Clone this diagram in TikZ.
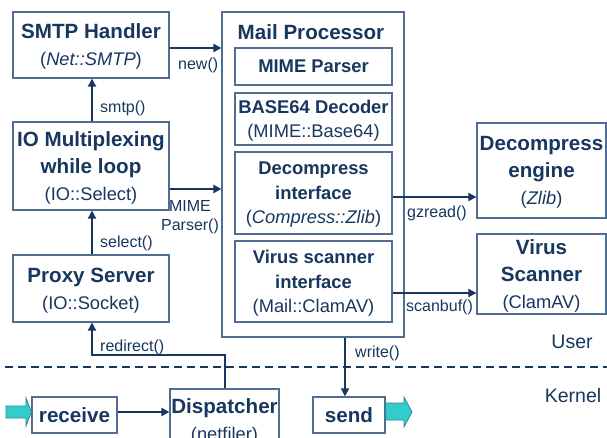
\documentclass[tikz,border=0pt]{standalone}
\usepackage{fontspec}
\setmainfont{Liberation Sans}
\usetikzlibrary{arrows.meta}

\definecolor{navy}{HTML}{17375E}
\definecolor{boxedge}{HTML}{4F6D92}
\definecolor{pipecyan}{HTML}{33CCCC}
\definecolor{pipeedge}{HTML}{2A8A96}

% bold heading lines: large for stand-alone boxes, smaller inside the processor
\newcommand{\boxhead}[1]{{\fontsize{20.6}{27}\selectfont\bfseries #1}}
\newcommand{\parthead}[1]{{\fontsize{18.4}{24.5}\selectfont\bfseries #1}}

\tikzset{
  box/.style={draw=boxedge, line width=1.2pt, rectangle, inner sep=1pt,
    align=center, text=navy, font=\fontsize{18.3}{27}\selectfont,
    text depth=-6pt},
  part/.style={box, font=\fontsize{18.3}{24.5}\selectfont, text depth=0pt,
    minimum width=157pt},
  link/.style={draw=navy, line width=2pt, -{Triangle[length=8pt,width=8pt]}},
  lbl/.style={text=navy, font=\fontsize{16}{19}\selectfont, inner sep=0pt},
  layer/.style={text=navy, font=\fontsize{19.5}{22}\selectfont, inner sep=0pt},
  pipe/.style={draw=pipeedge, fill=pipecyan, line width=0.8pt, line join=miter}
}

\begin{document}
\begin{tikzpicture}[x=1pt, y=-1pt]
\clip (0,0) rectangle (607,437);
\fill[white] (0,0) rectangle (607,437);

% user-space boxes
\node[box, minimum width=156pt, minimum height=66pt, text depth=-4pt] (smtp) at (91,45)
  {\boxhead{SMTP Handler}\\(\textit{Net::SMTP})};
\node[box, minimum width=156pt, minimum height=88pt] (io) at (91,166)
  {\boxhead{IO Multiplexing}\\\boxhead{while loop}\\(IO::Select)};
\node[box, minimum width=156pt, minimum height=67pt] (proxy) at (91,288.5)
  {\boxhead{Proxy Server}\\(IO::Socket)};

% mail processor and its parts
\node[box, minimum width=182pt, minimum height=325pt] (mp) at (313,174.5) {};
\node[text=navy, inner sep=0pt, font=\fontsize{20.6}{24}\selectfont\bfseries]
  (mptitle) at (311,32) {Mail Processor};
\node[part, minimum height=37pt] (mime) at (313.5,66.5) {\parthead{MIME Parser}};
\node[part, minimum height=52pt] (b64) at (313.5,119)
  {\parthead{BASE64 Decoder}\\(MIME::Base64)};
\node[part, minimum height=82pt] (dci) at (313.5,193)
  {\parthead{Decompress}\\\parthead{interface}\\(\textit{Compress::Zlib})};
\node[part, minimum height=81pt] (vsi) at (313.5,281.5)
  {\parthead{Virus scanner}\\\parthead{interface}\\(Mail::ClamAV)};

% external engines
\node[box, minimum width=129pt, minimum height=95pt, text depth=-4pt] (de) at (541.5,170.5)
  {\boxhead{Decompress}\\\boxhead{engine}\\(\textit{Zlib})};
\node[box, minimum width=129pt, minimum height=80pt, text depth=-4pt] (vs) at (541.5,274)
  {\boxhead{Virus}\\\boxhead{Scanner}\\(ClamAV)};

% kernel boxes
\node[box, minimum width=85pt, minimum height=36pt, text depth=-4pt] (recv) at (74.5,415)
  {\boxhead{receive}};
\node[box, minimum width=109pt, minimum height=62pt, text depth=-4pt] (disp) at (224.5,420)
  {\boxhead{Dispatcher}\\(netfiler)};
\node[box, minimum width=72pt, minimum height=36pt, text depth=-4pt] (send) at (349,415)
  {\boxhead{send}};

% user / kernel boundary
\coordinate (sepL) at (5,367);
\coordinate (sepR) at (607,367);
\draw[navy, line width=2pt, dash pattern=on 8pt off 5pt] (sepL) -- (sepR);
\node[layer] (user) at (572,342) {User};
\node[layer] (kernel) at (573,396) {Kernel};

% packet flow in and out
\draw[pipe] (6,406) -- (26,406) -- (26,398) -- (recv.west |- 0,412)
  -- (26,426) -- (26,418) -- (6,418) -- cycle;
\draw[pipe] (send.east |- 0,403) -- (404,403) -- (404,397) -- (412,412)
  -- (404,427) -- (404,420) -- (send.east |- 0,420) -- cycle;

% calls
\draw[link] ([yshift=-3pt]smtp.east) -- ([yshift=-3pt]smtp.east -| mp.west);
\node[lbl, anchor=west] (newl) at (178,65) {new()};

\draw[link] ([xshift=1pt]io.north) -- ([xshift=1pt]smtp.south);
\node[lbl, anchor=west] (smtpl) at (100,108) {smtp()};

\draw[link] ([yshift=-23pt]io.east) -- ([yshift=-23pt]io.east -| mp.west);
\node[lbl, align=center] (mimel) at (190,217.5) {MIME\\Parser()};

\draw[link] ([xshift=1pt]proxy.north) -- ([xshift=1pt]io.south);
\node[lbl, anchor=west] (selectl) at (100,243) {select()};

\draw[link] (disp.north) -- ++(0,-33) -| ([xshift=1pt]proxy.south);
\node[lbl, anchor=west] (redirl) at (100,347) {redirect()};

\draw[link] ([yshift=3pt]recv.east) -- ([yshift=3pt]recv.east -| disp.west);

\draw[link] ([xshift=-4pt]send.north |- mp.south) -- ([xshift=-4pt]send.north);
\node[lbl, anchor=west] (writel) at (355,353) {write()};

\draw[link] ([yshift=-4pt]dci.east) -- ([yshift=-4pt]dci.east -| de.west);
\node[lbl, anchor=west] (gzl) at (407,213) {gzread()};

\draw[link] ([yshift=-11.5pt]vsi.east) -- ([yshift=-11.5pt]vsi.east -| vs.west);
\node[lbl, anchor=west] (scanl) at (406,307) {scanbuf()};
\end{tikzpicture}
\end{document}
